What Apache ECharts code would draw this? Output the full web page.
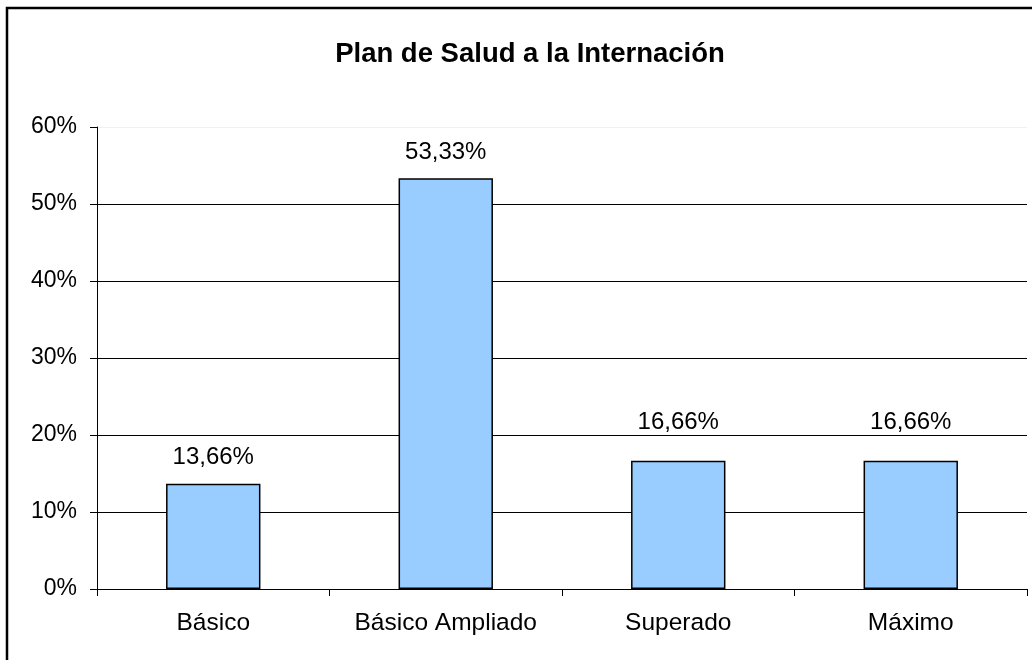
<!DOCTYPE html>
<html>
<head>
<meta charset="utf-8">
<script src="https://cdn.jsdelivr.net/npm/echarts@6/dist/echarts.min.js"></script>
<style type="text/css">
html,body{margin:0;padding:0;background:#fff;}
#chart{width:1032px;height:660px;}
</style>
</head>
<body>
<div id="chart"></div>
<script type="text/javascript">
// datos del gráfico
var categorias = ['Básico', 'Básico Ampliado', 'Superado', 'Máximo'];
var valores = [13.66, 53.33, 16.66, 16.66];
var ticksY = [0, 10, 20, 30, 40, 50, 60];

var fuente = '"Liberation Sans", Arial, sans-serif';
// la última línea (60%) casi no se ve en el original
var coloresGrid = ticksY.map(function (t) { return t === 60 ? '#f0f0f0' : '#000'; });

var myChart = echarts.init(document.getElementById('chart'));
myChart.setOption({
	animation: false,
	backgroundColor: '#fff',
	title: {
		text: 'Plan de Salud a la Internación',
		left: 525,
		top: 35,
		textAlign: 'center',
		textStyle: { fontFamily: fuente, fontSize: 27.5, fontWeight: 'bold', color: '#000' }
	},
	graphic: [{
		type: 'rect',
		shape: { x: 7, y: 8, width: 1200, height: 900 },
		style: { fill: 'none', stroke: '#000', lineWidth: 2.5 },
		silent: true
	}],
	grid: { left: 97, top: 127, right: 5, bottom: 71, containLabel: false },
	xAxis: {
		type: 'category',
		data: categorias,
		axisLine: { lineStyle: { color: '#000', width: 1 } },
		axisTick: { show: true, length: 7, interval: 0, alignWithLabel: false, lineStyle: { color: '#000' } },
		axisLabel: { margin: 22, fontFamily: fuente, fontSize: 24.5, color: '#000', interval: 0 },
		splitLine: { show: false }
	},
	yAxis: {
		type: 'value',
		min: ticksY[0],
		max: ticksY[ticksY.length - 1],
		interval: 10,
		axisLine: { show: true, lineStyle: { color: '#000', width: 1 } },
		axisTick: { show: true, length: 7, inside: false, lineStyle: { color: '#000' } },
		axisLabel: {
			margin: 20, fontFamily: fuente, fontSize: 23, color: '#000',
			formatter: function (v) { return v + '%'; }
		},
		splitLine: { show: true, lineStyle: { color: coloresGrid, width: 1 } }
	},
	series: [{
		type: 'bar',
		// las etiquetas de 16,66% quedan por encima de la línea del 20%
		data: valores.map(function (v) {
			return (v > 15 && v < 20) ? { value: v, label: { distance: 26 } } : v;
		}),
		barWidth: '40.6%',
		itemStyle: { color: '#99ccff', borderColor: '#000', borderWidth: 1.5 },
		label: {
			show: true,
			position: 'top',
			distance: 14,
			fontFamily: fuente,
			fontSize: 24,
			color: '#000',
			formatter: function (p) { return p.value.toFixed(2).replace('.', ',') + '%'; }
		}
	}]
});
</script>
</body>
</html>
